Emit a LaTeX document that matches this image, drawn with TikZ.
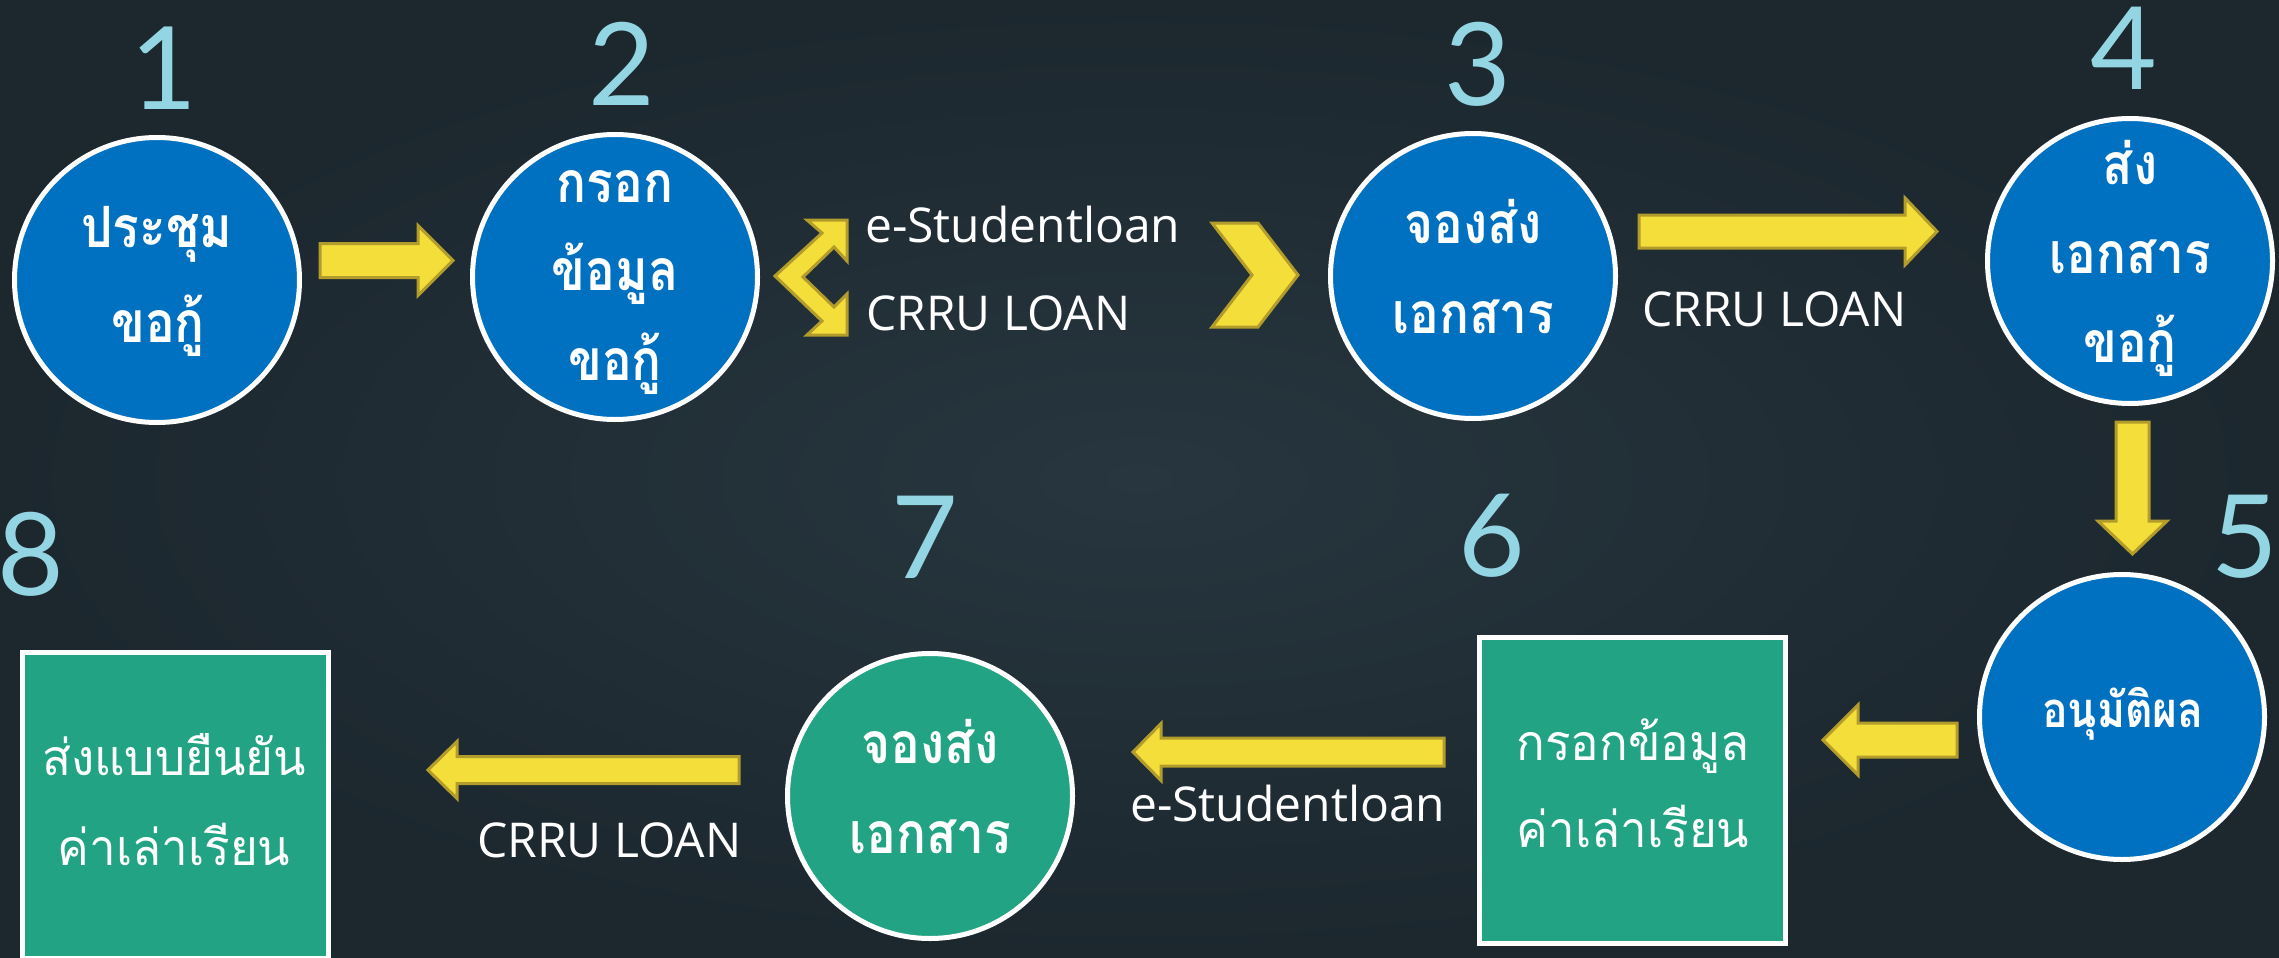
\documentclass[tikz,border=0pt]{standalone}
\usepackage{fontspec}
\newfontfamily\thaifont[Script=Thai,FakeStretch=0.95]{Loma}
\newfontfamily\thaiboldfont[Script=Thai,FakeStretch=0.87]{Loma}
\newfontfamily\latinfont{Open Sans}
\newfontfamily\digitfont{Lato}
\usetikzlibrary{calc}
\definecolor{bgin}{HTML}{27363F}
\definecolor{bgout}{HTML}{1C272E}
\definecolor{cblue}{HTML}{0070C0}
\definecolor{cgreen}{HTML}{22A383}
\definecolor{ayellow}{HTML}{F3DE3A}
\definecolor{aolive}{HTML}{B29C2C}
\definecolor{digitc}{HTML}{93D5E3}
\tikzset{
  circnode/.style={circle, draw=white, line width=5pt, minimum size=285pt, inner sep=0pt},
  bluecirc/.style={circnode, fill=cblue},
  greencirc/.style={circnode, fill=cgreen},
  boxnode/.style={rectangle, draw=white, line width=5pt, minimum size=306pt, inner sep=0pt, fill=cgreen},
  arrowbody/.style={fill=ayellow, draw=aolive, line width=3pt, line join=miter},
  thbold/.style={font=\thaiboldfont\bfseries\fontsize{57}{60}\selectfont, text=white, anchor=base, inner sep=0pt},
  thsmall/.style={font=\thaiboldfont\bfseries\fontsize{49}{52}\selectfont, text=white, anchor=base, inner sep=0pt},
  thlight/.style={font=\thaifont\fontsize{50}{54}\selectfont, text=white, anchor=base, inner sep=0pt},
  latlabel/.style={font=\latinfont\fontsize{48}{52}\selectfont, text=white, anchor=base west, inner sep=0pt},
  numlabel/.style={font=\digitfont\fontsize{115}{120}\selectfont, text=digitc, anchor=base, inner sep=0pt}
}
\newcommand{\blockarrow}[5]{%
  \draw[arrowbody] let \p1=(#1), \p2=(#2), \n1={atan2(\y2-\y1,\x2-\x1)}, \n2={veclen(\x2-\x1,\y2-\y1)} in
    [shift={(\p1)}, rotate=\n1] (0,-#3) -- ({\n2-#5},-#3) -- ({\n2-#5},-#4) -- (\n2,0)
    -- ({\n2-#5},#4) -- ({\n2-#5},#3) -- (0,#3) -- cycle;%
}
\begin{document}
\begin{tikzpicture}[x=1pt,y=-1pt]
\useasboundingbox (0,0) rectangle (2279,958);
\shade[inner color=bgin, outer color=bgout] (0,0) rectangle (2279,958);

% step circles and boxes
\node[bluecirc] (c1) at (157,280) {};
\node[bluecirc] (c2) at (615,277) {};
\node[bluecirc] (c3) at (1473,276) {};
\node[bluecirc] (c4) at (2130,261) {};
\node[bluecirc] (c5) at (2122,717) {};
\node[boxnode] (b6) at (1632.5,790.5) {};
\node[greencirc] (c7) at (930,796) {};
\node[boxnode] (b8) at (175,805.5) {};

% numbers
\node[numlabel] (n1) at (164,110) {1};
\node[numlabel] (n2) at (622,105) {2};
\node[numlabel] (n3) at (1478,105) {3};
\node[numlabel] (n4) at (2124,89) {4};
\node[numlabel] (n5) at (2245,577) {5};
\node[numlabel] (n6) at (1492,576) {6};
\node[numlabel] (n7) at (925,578) {7};
\node[numlabel] (n8) at (31,595) {8};

% texts in shapes
\node[thbold] (t1a) at (157,247) {ประชุม};
\node[thbold] (t1b) at (158,342) {ขอกู้};
\node[thbold] (t2a) at (615,202) {กรอก};
\node[thbold] (t2b) at (615,290) {ข้อมูล};
\node[thbold] (t2c) at (615,380) {ขอกู้};
\node[thbold] (t3a) at (1473,243) {จองส่ง};
\node[thbold] (t3b) at (1473,333) {เอกสาร};
\node[thbold] (t4a) at (2130,184) {ส่ง};
\node[thbold] (t4b) at (2130,273) {เอกสาร};
\node[thbold] (t4c) at (2130,362) {ขอกู้};
\node[thsmall] (t5a) at (2123,727) {อนุมัติผล};
\node[thlight] (t6a) at (1633,760) {กรอกข้อมูล};
\node[thlight] (t6b) at (1633,847) {ค่าเล่าเรียน};
\node[thbold] (t7a) at (930,763) {จองส่ง};
\node[thbold] (t7b) at (930,853) {เอกสาร};
\node[thlight] (t8a) at (174,775) {ส่งแบบยืนยัน};
\node[thlight] (t8b) at (174,865) {ค่าเล่าเรียน};

% connector labels
\node[latlabel] (l1) at (865,242) {e-Studentloan};
\node[latlabel] (l2) at (866,330) {CRRU LOAN};
\node[latlabel] (l3) at (1642,326) {CRRU LOAN};
\node[latlabel] (l4) at (1130,821) {e-Studentloan};
\node[latlabel] (l5) at (477,857) {CRRU LOAN};

% block arrows
\coordinate (a12s) at (320,260.5);  \coordinate (a12e) at (453,260.5);
\coordinate (a34s) at (1639,231.5); \coordinate (a34e) at (1937,231.5);
\coordinate (a45s) at (2132.5,422); \coordinate (a45e) at (2132.5,554);
\coordinate (a56s) at (1957,740);   \coordinate (a56e) at (1823,740);
\coordinate (a67s) at (1444,752);   \coordinate (a67e) at (1133,752);
\coordinate (a78s) at (739,770);    \coordinate (a78e) at (428,770);
\blockarrow{a12s}{a12e}{17}{35}{35}
\blockarrow{a34s}{a34e}{16.5}{33.5}{32}
\blockarrow{a45s}{a45e}{16.5}{34.5}{33}
\blockarrow{a56s}{a56e}{17}{35}{35}
\blockarrow{a67s}{a67e}{14}{28.5}{28}
\blockarrow{a78s}{a78e}{13.5}{28.5}{29}

% bent double arrow (2 -> two systems)
\draw[arrowbody] (775,276) -- (822,233) -- (807,220) -- (847,220) -- (847,261) -- (834,247)
  -- (803,277) -- (834,307) -- (847,294) -- (847,335) -- (807,335) -- (822,321) -- cycle;
% chevron towards 3
\draw[arrowbody] (1212,223) -- (1258,223) -- (1298,275) -- (1258,327) -- (1212,327) -- (1252,275) -- cycle;
\end{tikzpicture}
\end{document}
